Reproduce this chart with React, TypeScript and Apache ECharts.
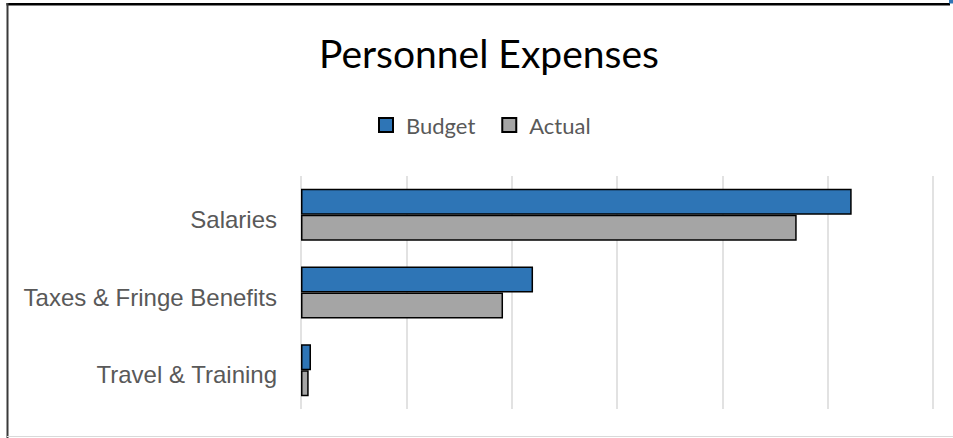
import React, { useEffect, useRef } from "react";
import * as echarts from "echarts";

const categories = ["Salaries", "Taxes & Fringe Benefits", "Travel & Training"];
const budget = [522800, 220300, 9500];
const actual = [470600, 191800, 7300];
const seriesNames = ["Budget", "Actual"];

export default function App() {
  const ref = useRef<HTMLDivElement>(null);
  useEffect(() => {
    const chart = echarts.init(ref.current!, null, { renderer: "svg" });
    chart.setOption({
      animation: false,
      backgroundColor: "#fff",
      title: {
        text: "Personnel Expenses",
        left: 314,
        top: 28,
        textStyle: { fontFamily: "Lato", fontSize: 39, fontWeight: "normal", color: "#000" },
      },
      legend: {
        data: seriesNames,
        left: 373,
        top: 109,
        itemWidth: 14,
        itemHeight: 14,
        itemGap: 26,
        icon: "rect",
        textStyle: { fontFamily: "Lato", fontSize: 22, color: "#595959", padding: [0, 0, 0, 8] },
      },
      grid: { left: 301, right: 20, top: 176, bottom: 29, containLabel: false },
      xAxis: {
        type: "value",
        min: 0,
        max: 600000,
        interval: 100000,
        axisLabel: { show: false },
        axisLine: { show: false },
        axisTick: { show: false },
        splitLine: { lineStyle: { color: "#d9d9d9", width: 1.5 } },
      },
      yAxis: {
        type: "category",
        data: categories,
        inverse: true,
        axisLine: { show: false },
        axisTick: { show: false },
        axisLabel: {
          fontFamily: "Liberation Sans",
          fontSize: 24,
          color: "#595959",
          margin: 24,
          formatter: "{a|{value}}",
          rich: {
            a: {
              fontFamily: "Liberation Sans",
              fontSize: 24,
              color: "#595959",
              padding: [9, 0, 0, 0],
            },
          },
        },
      },
      series: [
        {
          name: seriesNames[0],
          type: "bar",
          data: budget,
          barGap: "0%",
          barCategoryGap: "33%",
          itemStyle: { color: "#2E75B6", borderColor: "#000", borderWidth: 1.5 },
        },
        {
          name: seriesNames[1],
          type: "bar",
          data: actual,
          barGap: "0%",
          barCategoryGap: "33%",
          itemStyle: { color: "#A5A5A5", borderColor: "#000", borderWidth: 1.5 },
        },
      ],
      graphic: [
        { type: "line", shape: { x1: 6.5, y1: 4.3, x2: 950, y2: 4.3 }, style: { stroke: "#000", lineWidth: 2.5 } },
        { type: "line", shape: { x1: 7.5, y1: 3, x2: 7.5, y2: 438 }, style: { stroke: "#3a3a3a", lineWidth: 2 } },
        { type: "line", shape: { x1: 7, y1: 436.5, x2: 953, y2: 436.5 }, style: { stroke: "#d9d9d9", lineWidth: 1 } },
        { type: "rect", shape: { x: 949, y: 0, width: 4, height: 3.5 }, style: { fill: "#2E75B6" } },
      ],
    });
    return () => chart.dispose();
  }, []);
  return (
    <div
      ref={ref}
      style={{ position: "fixed", left: 0, top: 0, width: 953, height: 438 }}
    />
  );
}
